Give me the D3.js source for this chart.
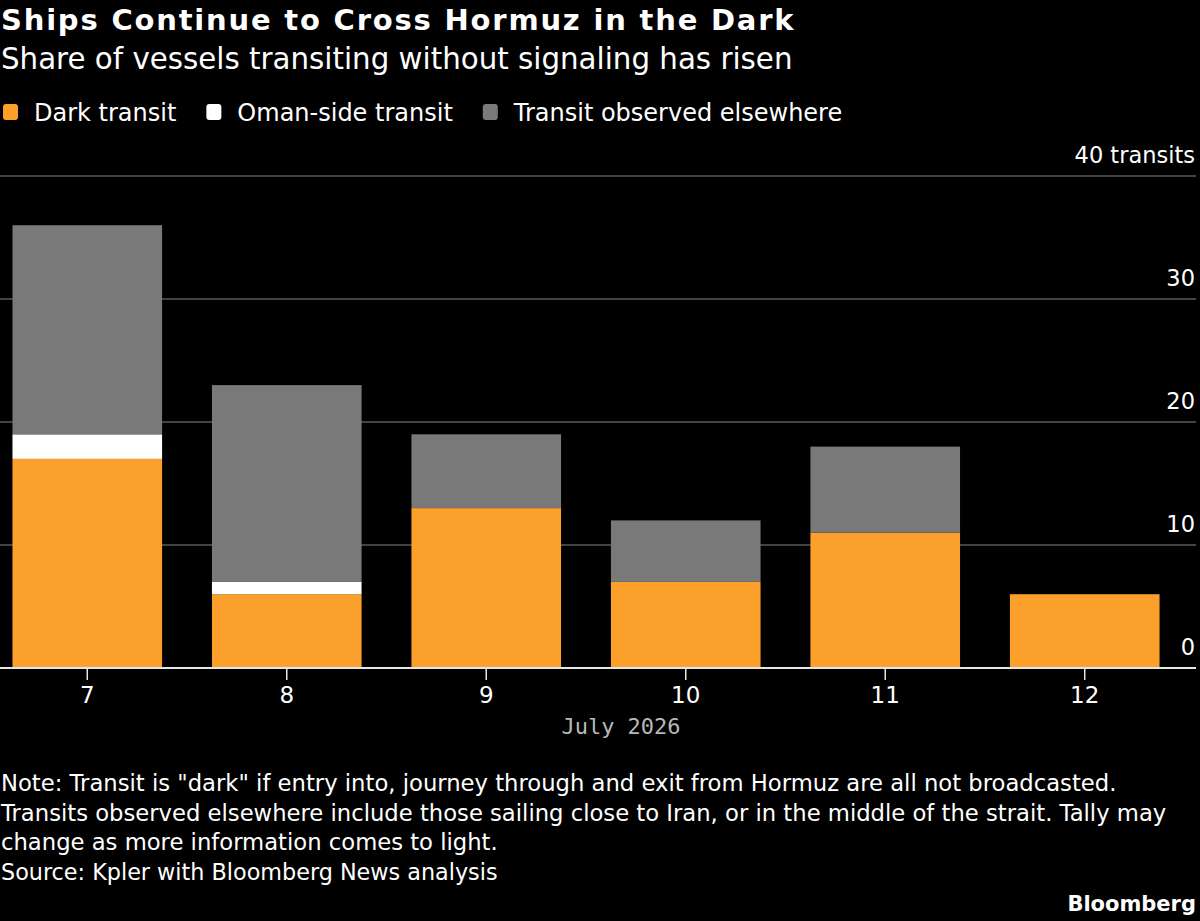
<!DOCTYPE html>
<html>
<head>
<meta charset="utf-8">
<script src="https://cdn.jsdelivr.net/npm/d3@7"></script>
<style>
  html, body { margin: 0; padding: 0; background: #000; }
  svg { display: block; font-family: "DejaVu Sans", sans-serif; }
</style>
</head>
<body>
<div id="chart"></div>
<script>
// values
const days = ["7", "8", "9", "10", "11", "12"];
const darkTransit = [17, 6, 13, 7, 11, 6];
const omanTransit = [2, 1, 0, 0, 0, 0];
const elsewhereTransit = [17, 16, 6, 5, 7, 0];

const seriesNames = ["Dark transit", "Oman-side transit", "Transit observed elsewhere"];
const seriesKeys = ["dark", "oman", "elsewhere"];
const seriesColors = ["#FBA02B", "#FFFFFF", "#797979"];

const yTicks = [0, 10, 20, 30, 40];
const noteLines = [
    "Note: Transit is \"dark\" if entry into, journey through and exit from Hormuz are all not broadcasted.",
    "Transits observed elsewhere include those sailing close to Iran, or in the middle of the strait. Tally may",
    "change as more information comes to light."
];
const sourceText = "Source: Kpler with Bloomberg News analysis";

const W = 1200, H = 921;
const margin = {top: 176, right: 28, bottom: 253, left: 0};
const width = W - margin.left - margin.right;
const height = H - margin.top - margin.bottom;

const svg = d3.select("#chart").append("svg")
    .attr("width", W)
    .attr("height", H);

svg.append("rect").attr("width", W).attr("height", H).attr("fill", "#000");

// Titles
svg.append("text")
    .attr("x", 1).attr("y", 30)
    .attr("fill", "#fff")
    .attr("font-size", 29)
    .attr("font-weight", "bold")
    .attr("letter-spacing", 1.8)
    .text("Ships Continue to Cross Hormuz in the Dark");

svg.append("text")
    .attr("x", 1).attr("y", 69)
    .attr("fill", "#fff")
    .attr("font-size", 29.3)
    .text("Share of vessels transiting without signaling has risen");

// Legend
const legend = svg.append("g").attr("transform", "translate(3, 112)");
let lx = 0;
seriesNames.forEach((name, i) => {
    const g = legend.append("g").attr("transform", `translate(${lx},0)`);
    g.append("rect")
        .attr("x", 0).attr("y", -8)
        .attr("width", 15).attr("height", 16)
        .attr("rx", 3)
        .attr("fill", seriesColors[i]);
    const t = g.append("text")
        .attr("x", 31).attr("y", 9)
        .attr("fill", "#fff")
        .attr("font-size", 24)
        .text(name);
    lx += 31 + t.node().getComputedTextLength() + 30;
});

// Data
const rows = days.map((d, i) => ({
    day: d,
    dark: darkTransit[i],
    oman: omanTransit[i],
    elsewhere: elsewhereTransit[i]
}));

const stacked = d3.stack().keys(seriesKeys)(rows);

const x = d3.scaleBand()
    .domain(days)
    .range([0, width])
    .paddingInner(0.25)
    .paddingOuter(0.0625);

const y = d3.scaleLinear()
    .domain([0, 40])
    .range([height, 0]);

const chart = svg.append("g")
    .attr("transform", `translate(${margin.left},${margin.top})`);

// gridlines run the full width, under the right-hand labels
chart.append("g")
    .selectAll("line")
    .data(yTicks.filter(d => d > 0))
    .join("line")
    .attr("x1", 0).attr("x2", W - 4)
    .attr("y1", d => y(d)).attr("y2", d => y(d))
    .attr("stroke", "#5a5a5a")
    .attr("stroke-width", 1.5);

// y labels, right side above gridline
chart.append("g")
    .selectAll("text")
    .data(yTicks)
    .join("text")
    .attr("x", W - 5)
    .attr("y", d => y(d) - 13)
    .attr("text-anchor", "end")
    .attr("fill", "#fff")
    .attr("font-size", 22.5)
    .text(d => d === 40 ? "40 transits" : d);

// bars
chart.append("g")
    .selectAll("g")
    .data(stacked)
    .join("g")
    .attr("fill", (d, i) => seriesColors[i])
    .selectAll("rect")
    .data(d => d)
    .join("rect")
    .attr("x", d => x(d.data.day))
    .attr("width", x.bandwidth())
    .attr("y", d => y(d[1]))
    .attr("height", d => y(d[0]) - y(d[1]));

// x axis
const xAxis = chart.append("g")
    .attr("transform", `translate(0,${height})`)
    .call(d3.axisBottom(x).tickSize(12).tickPadding(7));

xAxis.select(".domain").attr("stroke", "#e6e6e6").attr("stroke-width", 2)
    .attr("d", `M0,0H${W - 4}`);
xAxis.selectAll(".tick line").attr("stroke", "#e6e6e6").attr("stroke-width", 1.5);
xAxis.selectAll(".tick text")
    .attr("fill", "#fff")
    .attr("font-size", 23)
    .attr("font-family", "DejaVu Sans, sans-serif");

svg.append("text")
    .attr("x", 621).attr("y", 734)
    .attr("text-anchor", "middle")
    .attr("fill", "#b8b8b8")
    .attr("font-size", 22)
    .attr("font-family", "DejaVu Sans Mono, monospace")
    .text("July 2026");

// notes
svg.append("g")
    .selectAll("text")
    .data(noteLines)
    .join("text")
    .attr("x", 1)
    .attr("y", (d, i) => 791 + i * 29.5)
    .attr("fill", "#fff")
    .attr("font-size", 22.7)
    .text(d => d);

svg.append("text")
    .attr("x", 1).attr("y", 880)
    .attr("fill", "#fff")
    .attr("font-size", 22.3)
    .text(sourceText);

svg.append("text")
    .attr("x", W - 4).attr("y", 911)
    .attr("text-anchor", "end")
    .attr("fill", "#fff")
    .attr("font-size", 21)
    .attr("font-weight", "bold")
    .text("Bloomberg");
</script>
</body>
</html>
